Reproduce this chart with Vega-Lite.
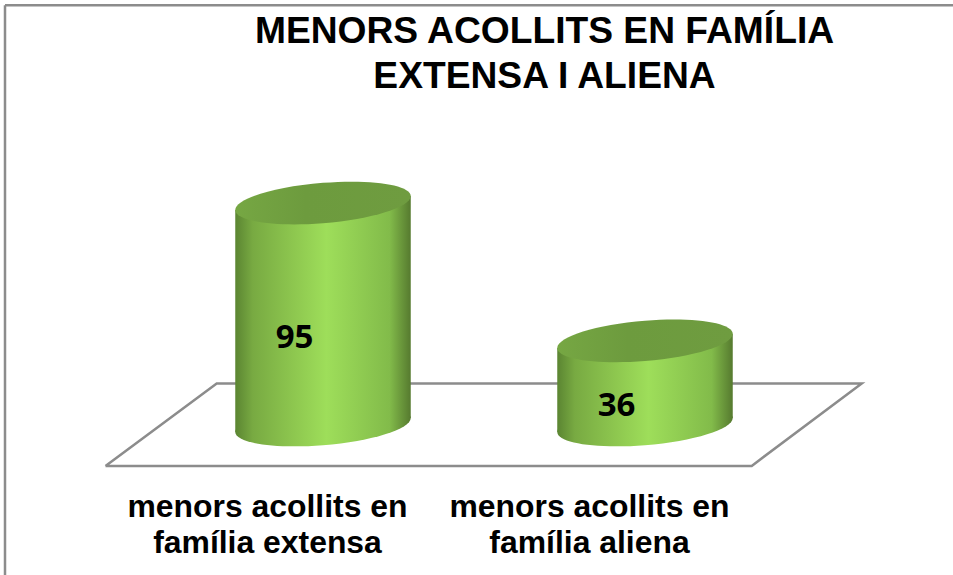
{"$schema":"https://vega.github.io/schema/vega-lite/v6.json","width":953,"height":575,"padding":0,"autosize":{"type":"none"},"background":"white","config":{"view":{"stroke":null}},
"title":{"text":["MENORS ACOLLITS EN FAMÍLIA","EXTENSA I ALIENA"],"font":"Liberation Sans","fontSize":37.2,"fontWeight":"bold","color":"#000000","lineHeight":45,"anchor":"middle","dx":68,"dy":100},
"datasets":{"main":[{"cat":"menors acollits en\nfamília extensa","pos":1,"value":95},{"cat":"menors acollits en\nfamília aliena","pos":2,"value":36}],
"floor":[{"pos":0.3245,"level":-17.5,"ord":1},{"pos":0.6699,"level":17.8,"ord":2},{"pos":2.673,"level":17.8,"ord":3},{"pos":2.3314,"level":-17.5,"ord":4},{"pos":0.3245,"level":-17.5,"ord":5}]},
"layer":[
{"data":{"values":[{"a":1}]},"mark":{"type":"rule","stroke":"#8c8c8c","strokeWidth":2.5},"encoding":{"x":{"datum":0.01242,"type":"quantitative","axis":null,"scale":{"domain":[-0.00311,2.95652],"nice":false,"zero":false}},"y":{"datum":179.7,"type":"quantitative","axis":null,"scale":{"domain":[-64.2,181.9],"nice":false,"zero":false}},"y2":{"datum":-64.2}}},
{"data":{"values":[{"a":1}]},"mark":{"type":"rule","stroke":"#8c8c8c","strokeWidth":2.5},"encoding":{"x":{"datum":0.01242,"type":"quantitative","axis":null},"x2":{"datum":2.95652},"y":{"datum":179.7,"type":"quantitative","axis":null}}},
{"data":{"name":"floor"},"mark":{"type":"line","stroke":"#8c8c8c","strokeWidth":2.5,"strokeJoin":"miter"},"encoding":{"x":{"field":"pos","type":"quantitative","axis":null},"y":{"field":"level","type":"quantitative","axis":null},"order":{"field":"ord"}}},
{"data":{"name":"main"},"mark":{"type":"point","filled":true,"opacity":1,"size":30800,"shape":"M1,-0.08C1,0.047 0.552,0.186 0,0.23C-0.552,0.274 -1,0.207 -1,0.08C-1,-0.047 -0.552,-0.186 0,-0.23C0.552,-0.274 1,-0.207 1,-0.08Z","color":{"gradient":"linear","x1":0,"x2":1,"y1":0,"y2":0,"stops":[{"offset":0,"color":"#5b8532"},{"offset":0.1,"color":"#78aa42"},{"offset":0.35,"color":"#8fc950"},{"offset":0.52,"color":"#9ede5a"},{"offset":0.88,"color":"#82bb4a"},{"offset":1,"color":"#567a2f"}]}},"encoding":{"x":{"field":"pos","type":"quantitative","axis":null},"y":{"datum":0,"type":"quantitative","axis":null}}},
{"data":{"name":"main"},"transform":[{"calculate":"[-1,1]","as":"edge"},{"flatten":["edge"]},{"calculate":"datum.pos+datum.edge*0.2725","as":"xe"},{"calculate":"datum.value+datum.edge*3","as":"top"},{"calculate":"datum.edge*3","as":"bottom"}],"mark":{"type":"area","orient":"vertical","color":{"gradient":"linear","x1":0,"x2":1,"y1":0,"y2":0,"stops":[{"offset":0,"color":"#5b8532"},{"offset":0.1,"color":"#78aa42"},{"offset":0.35,"color":"#8fc950"},{"offset":0.52,"color":"#9ede5a"},{"offset":0.88,"color":"#82bb4a"},{"offset":1,"color":"#567a2f"}]}},"encoding":{"x":{"field":"xe","type":"quantitative","axis":null},"y":{"field":"top","type":"quantitative","axis":null,"stack":null},"y2":{"field":"bottom"},"detail":{"field":"cat"}}},
{"data":{"name":"main"},"mark":{"type":"point","filled":true,"opacity":1,"size":30800,"shape":"M1,-0.08C1,0.047 0.552,0.186 0,0.23C-0.552,0.274 -1,0.207 -1,0.08C-1,-0.047 -0.552,-0.186 0,-0.23C0.552,-0.274 1,-0.207 1,-0.08Z","color":{"gradient":"linear","x1":0,"x2":1,"y1":0,"y2":0,"stops":[{"offset":0,"color":"#76a743"},{"offset":0.4,"color":"#6d9b3e"},{"offset":1,"color":"#6f9c40"}]}},"encoding":{"x":{"field":"pos","type":"quantitative","axis":null},"y":{"field":"value","type":"quantitative","axis":null}}},
{"data":{"name":"main"},"transform":[{"calculate":"datum.value*0.495-9.8","as":"labelY"}],"mark":{"type":"text","font":"Open Sans","fontWeight":"bold","fontSize":33,"color":"#000000","dx":-28.5,"align":"center","baseline":"middle"},"encoding":{"x":{"field":"pos","type":"quantitative","axis":null},"y":{"field":"labelY","type":"quantitative","axis":null},"text":{"field":"value","type":"quantitative"}}},
{"data":{"name":"main"},"mark":{"type":"text","font":"Liberation Sans","fontWeight":"bold","fontSize":31.9,"color":"#000000","dx":-55.5,"align":"center","baseline":"middle","lineBreak":"\n","lineHeight":36},"encoding":{"x":{"field":"pos","type":"quantitative","axis":null},"y":{"datum":-35.1,"type":"quantitative","axis":null},"text":{"field":"cat"}}}
]}
